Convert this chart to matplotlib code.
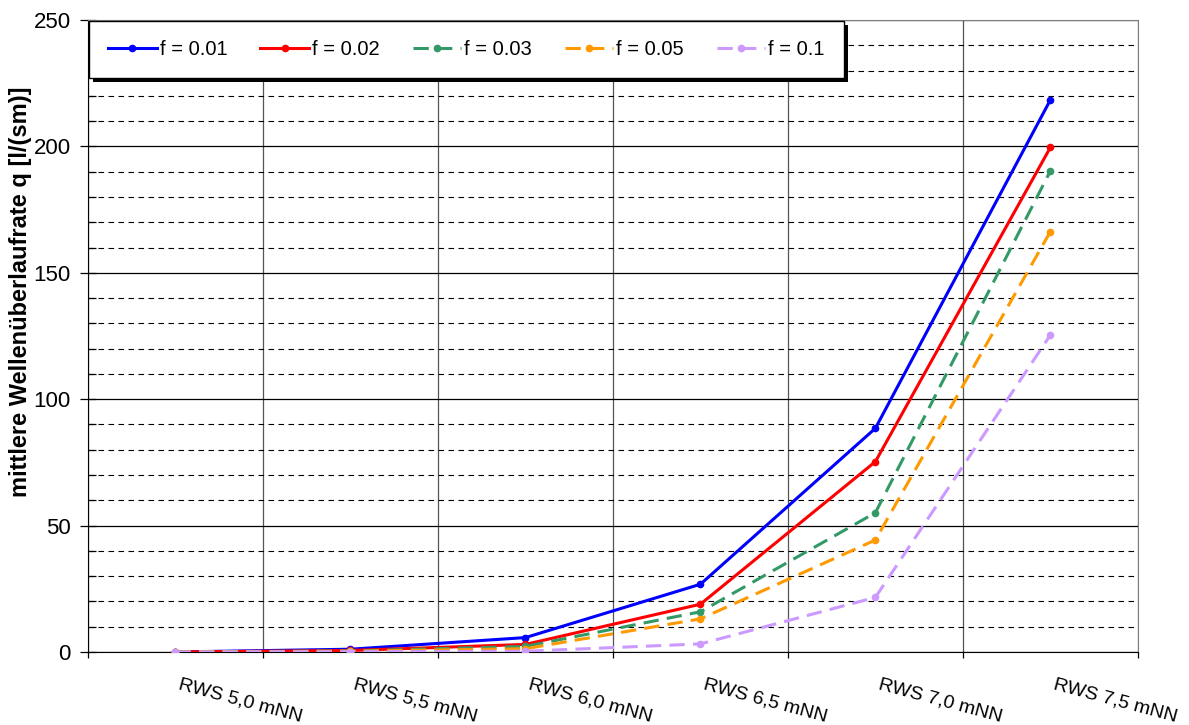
import numpy as np
import matplotlib
matplotlib.use('Agg')
import matplotlib.pyplot as plt
from matplotlib.ticker import MultipleLocator
from matplotlib.patches import Rectangle
from matplotlib.transforms import IdentityTransform

plt.rcParams['font.family'] = ['Liberation Sans', 'DejaVu Sans']

# Kategorien (Ruhewasserstand) und mittlere Wellenüberlaufrate je Reibungsbeiwert f
categories = ['RWS 5,0 mNN', 'RWS 5,5 mNN', 'RWS 6,0 mNN',
              'RWS 6,5 mNN', 'RWS 7,0 mNN', 'RWS 7,5 mNN']
q_f001 = [0.0, 1.1, 5.7, 26.8, 88.5, 218.4]
q_f002 = [0.0, 0.6, 3.0, 18.9, 75.3, 199.6]
q_f003 = [0.0, 0.4, 2.2, 15.9, 55.1, 190.3]
q_f005 = [0.0, 0.3, 1.3, 13.1, 44.3, 166.3]
q_f01 = [0.0, 0.1, 0.3, 3.2, 21.6, 125.4]
labels = ['f = 0.01', 'f = 0.02', 'f = 0.03', 'f = 0.05', 'f = 0.1']

colors = ['#0000FF', '#FF0000', '#339966', '#FF9900', '#CC99FF']
styles = ['-', '-', (0, (5, 2.7)), (0, (5, 2.7)), (0, (5, 2.7))]
series = [q_f001, q_f002, q_f003, q_f005, q_f01]

fig = plt.figure(figsize=(11.89, 7.25), dpi=100)
ax = fig.add_axes([0.074, 0.1007, 0.883, 0.8717])

x = np.arange(len(categories)) + 0.5
for vals, lab, col, ls in zip(series, labels, colors, styles):
    ax.plot(x, vals, color=col, linestyle=ls, linewidth=2.2, marker='o',
            markersize=4.5, label=lab, zorder=3)

ax.set_xlim(0, len(categories))
ax.set_ylim(0, 250)

# Gitter
ax.yaxis.set_major_locator(MultipleLocator(50))
ax.yaxis.set_minor_locator(MultipleLocator(10))
ax.set_xticks(np.arange(len(categories) + 1))
ax.set_xticklabels([])
ax.grid(True, which='major', axis='y', color='black', linewidth=0.9, zorder=1)
ax.grid(True, which='minor', axis='y', color='black', linewidth=0.8,
        linestyle=(0, (5, 4)), zorder=1)
ax.grid(True, which='major', axis='x', color='#555555', linewidth=0.9, zorder=1)
ax.set_axisbelow(True)

ax.tick_params(axis='y', which='major', direction='inout', length=11,
               labelsize=16, width=0.9, pad=7)
ax.tick_params(axis='y', which='minor', direction='in', length=6, width=0.9)
ax.tick_params(axis='x', which='major', direction='out', length=4.5, width=0.9)

for side in ['top', 'right']:
    ax.spines[side].set_color('#808080')
for side in ['left', 'bottom']:
    ax.spines[side].set_color('black')

# gedrehte Kategorienbeschriftung
for xi, cat in zip(x, categories):
    ax.annotate(cat, xy=(xi, 0), xycoords=('data', 'axes fraction'),
                xytext=(4, -17), textcoords='offset points',
                ha='left', va='top', rotation=-15, rotation_mode='anchor',
                fontsize=14)

ax.set_ylabel('mittlere Wellenüberlaufrate q [l/(sm)]', fontsize=17,
              fontweight='bold')
ax.yaxis.set_label_coords(-0.053, 0.57)

leg = ax.legend(loc='upper left', bbox_to_anchor=(0.001, 0.999), ncol=5,
                fontsize=14.5, frameon=True, fancybox=False, framealpha=1,
                handlelength=2.4, handletextpad=0.15, columnspacing=1.65,
                borderpad=0.95, borderaxespad=0.0)
leg.get_frame().set_edgecolor('black')
leg.get_frame().set_linewidth(1.0)
leg.set_zorder(5)

# Schatten der Legende
fig.canvas.draw()
bb = leg.get_frame().get_window_extent()
shadow = Rectangle((bb.x0 + 4, bb.y0 - 4), bb.width, bb.height,
                   transform=IdentityTransform(), facecolor='black',
                   edgecolor='none', zorder=4.9, clip_on=False)
ax.add_artist(shadow)

fig.savefig('out.png', dpi=100)
